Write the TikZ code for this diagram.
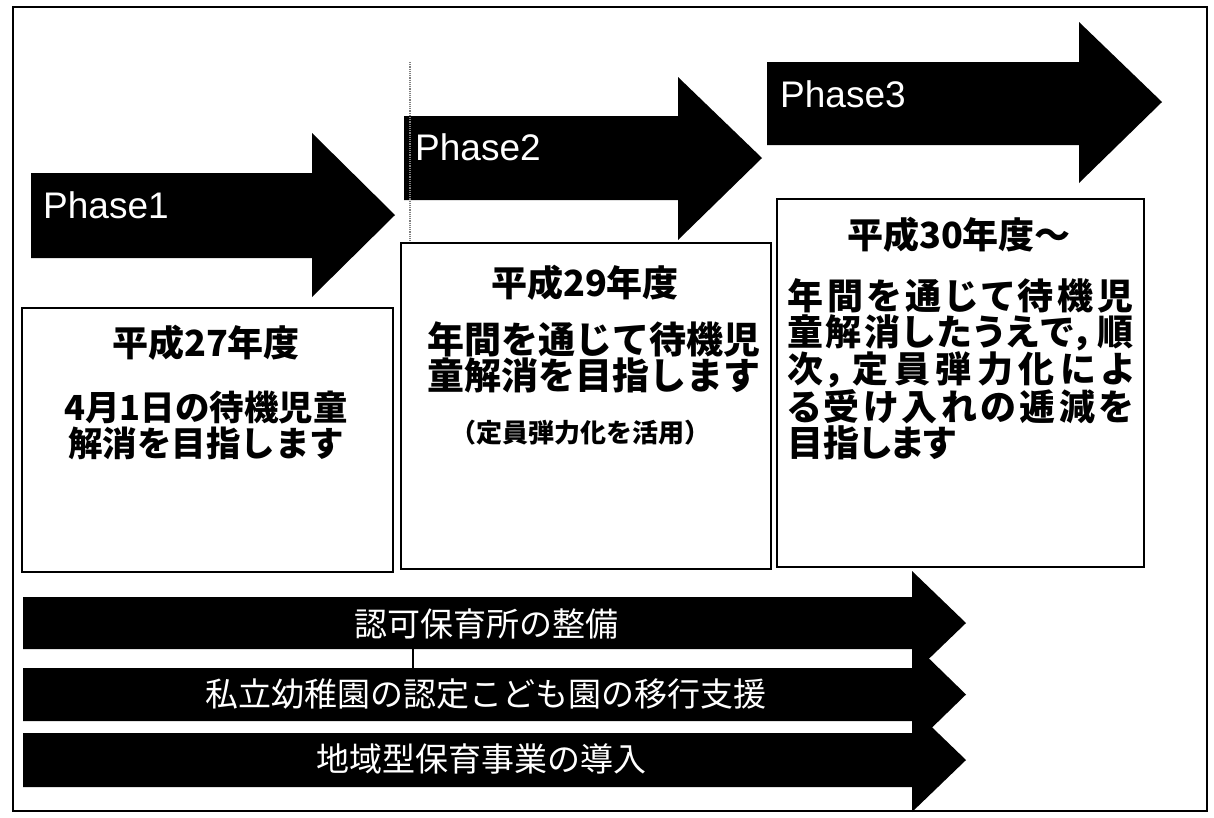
\documentclass[tikz,border=0pt]{standalone}
\usepackage{fontspec}
\setmainfont{Liberation Sans}
\newfontfamily\jpfont{Noto Sans CJK JP}
\newfontfamily\jppfont{Noto Sans CJK JP}[RawFeature=+palt]
\makeatletter
\newcommand{\spreadline}[2]{\makebox[#1][s]{\spr@loop#2\@nil}}
\def\spr@loop#1#2\@nil{#1\ifx\relax#2\relax\else\hfil\spr@loop#2\@nil\fi}
\makeatother
\tikzset{
  outerframe/.style={draw=black, line width=2.6pt},
  blackarrow/.style={fill=black},
  yearbox/.style={draw=black, line width=2.2pt, fill=white},
  phasetext/.style={text=white, font=\fontsize{37}{40}\selectfont, anchor=base west, inner sep=0pt},
  titletext/.style={font=\jpfont\bfseries\fontsize{36}{40}\selectfont, inner sep=0pt},
  bodytext/.style={inner sep=0pt, align=center},
  bartext/.style={text=white, inner sep=0pt, font=\jpfont\fontsize{33}{36}\selectfont},
  artifact/.style={line width=1.2pt, black}
}
\begin{document}
\begin{tikzpicture}[x=1pt,y=-1pt]
\useasboundingbox (0,0) rectangle (1214,817);
\fill[white] (0,0) rectangle (1214,817);

% phase arrows
\fill[blackarrow] (31,173) -- (312,173) -- (312,133) -- (395,215) -- (312,297) -- (312,258) -- (31,258) -- cycle;
\fill[blackarrow] (404,116) -- (678,116) -- (678,77) -- (762,158) -- (678,240) -- (678,200) -- (404,200) -- cycle;
\fill[blackarrow] (767,62) -- (1079,62) -- (1079,22) -- (1162,102) -- (1079,183) -- (1079,145) -- (767,145) -- cycle;
\node[phasetext] (p1) at (43,218) {Phase1};
\node[phasetext] (p2) at (415,160) {Phase2};
\node[phasetext] (p3) at (780,107) {Phase3};

% guide artifacts
\draw[artifact, densely dotted, gray] (410,62) -- (410,300);

% year boxes
\draw[yearbox] (22,308) rectangle (393,572);
\draw[yearbox] (401,243) rectangle (771,569);
\draw[yearbox] (777,199) rectangle (1144,567);

\node[titletext] (t27) at (206,343) {平成27年度};
\node[bodytext, font=\jpfont\bfseries\fontsize{34.5}{35.5}\selectfont] (b27) at (206,425.5) {4月1日の待機児童\\解消を目指します};

\node[titletext] (t29) at (585,283) {平成29年度};
\node[bodytext, font=\jpfont\bfseries\fontsize{37}{36}\selectfont] (b29) at (594,357) {年間を通じて待機児\\童解消を目指します};
\node[bodytext, font=\jpfont\bfseries\fontsize{26}{30}\selectfont] (n29) at (580,433) {（定員弾力化を活用）};

\node[titletext] (t30) at (959,235) {平成30年度～};
\node[bodytext, align=left, anchor=west, font=\jppfont\bfseries\fontsize{36}{35.8}\selectfont] (b30) at (787,369)
  {\spreadline{346pt}{年間を通じて待機児}\\\spreadline{346pt}{童解消したうえで，順}\\\spreadline{346pt}{次，定員弾力化によ}\\\spreadline{346pt}{る受け入れの逓減を}\\目指します};

% bottom bars
\fill[blackarrow] (23,597) -- (912,597) -- (912,571) -- (966,623) -- (912,675) -- (912,649) -- (23,649) -- cycle;
\fill[blackarrow] (23,668) -- (912,668) -- (912,642) -- (966,694.5) -- (912,747) -- (912,721) -- (23,721) -- cycle;
\fill[blackarrow] (23,733) -- (912,733) -- (912,708) -- (966,760) -- (912,812) -- (912,787) -- (23,787) -- cycle;
\draw[artifact] (413,649) -- (413,668);

\node[bartext] (r1) at (486,624) {認可保育所の整備};
\node[bartext] (r2) at (486,694) {私立幼稚園の認定こども園の移行支援};
\node[bartext] (r3) at (481,759) {地域型保育事業の導入};

% outer frame
\draw[outerframe] (13,7) rectangle (1207,811);
\end{tikzpicture}
\end{document}
